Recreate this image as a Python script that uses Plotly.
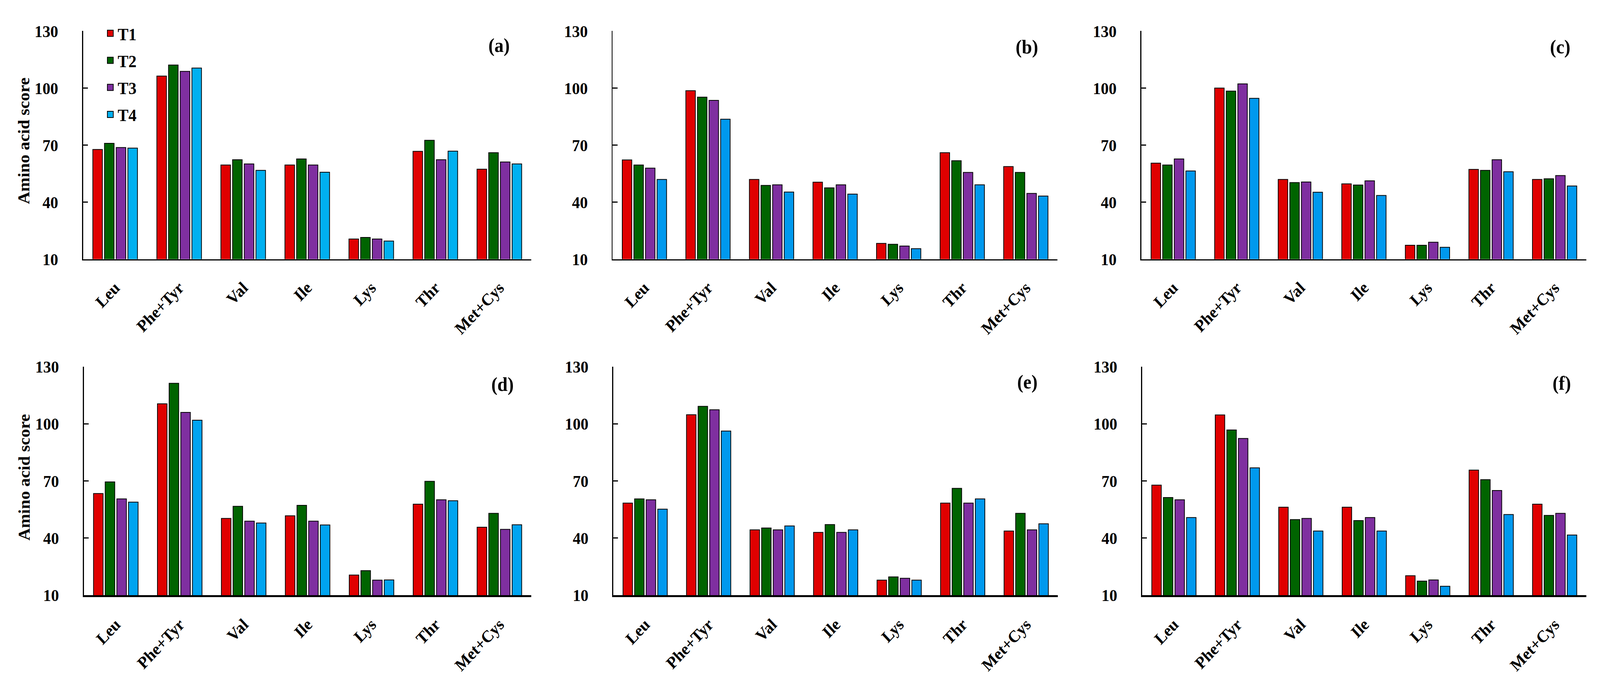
import plotly.graph_objects as go

# ---------------- data ----------------
categories = ["Leu", "Phe+Tyr", "Val", "Ile", "Lys", "Thr", "Met+Cys"]
series_names = ["T1", "T2", "T3", "T4"]
y_ticks = [10, 40, 70, 100, 130]
panel_labels = ["(a)", "(b)", "(c)", "(d)", "(e)", "(f)"]
y_title = "Amino acid score"

a_T1 = [67.7, 106.3, 59.5, 59.5, 20.6, 66.7, 57.3]
a_T2 = [70.9, 112.1, 62.3, 62.7, 21.4, 72.5, 66.0]
a_T3 = [68.7, 108.8, 60.1, 59.5, 20.6, 62.3, 61.1]
a_T4 = [68.4, 110.5, 56.7, 55.7, 19.5, 66.8, 60.1]

b_T1 = [62.2, 98.6, 51.9, 50.5, 18.3, 66.0, 58.7]
b_T2 = [59.5, 95.2, 48.8, 47.5, 17.8, 61.8, 55.6]
b_T3 = [57.9, 93.5, 49.1, 49.1, 16.9, 55.6, 44.6]
b_T4 = [51.9, 83.6, 45.3, 44.2, 15.5, 49.1, 43.2]

c_T1 = [60.5, 100.0, 51.9, 49.6, 17.3, 57.2, 51.9]
c_T2 = [59.5, 98.4, 50.3, 49.0, 17.3, 56.7, 52.3]
c_T3 = [62.7, 102.2, 50.6, 51.2, 18.9, 62.3, 54.0]
c_T4 = [56.4, 94.6, 45.2, 43.5, 16.2, 56.0, 48.5]

d_T1 = [63.4, 110.5, 50.3, 51.7, 20.6, 57.8, 45.7]
d_T2 = [69.5, 121.3, 56.7, 57.2, 22.9, 69.8, 53.0]
d_T3 = [60.6, 106.0, 48.9, 48.9, 17.9, 60.1, 44.6]
d_T4 = [58.9, 101.9, 47.9, 46.9, 18.0, 59.6, 47.0]

e_T1 = [58.4, 104.8, 44.3, 43.0, 17.9, 58.4, 43.7]
e_T2 = [60.6, 109.2, 45.3, 47.1, 19.6, 66.1, 53.0]
e_T3 = [60.1, 107.4, 44.3, 43.0, 18.9, 58.4, 44.3]
e_T4 = [55.2, 96.2, 46.4, 44.3, 17.9, 60.6, 47.5]

f_T1 = [67.8, 104.7, 56.2, 56.2, 20.2, 75.7, 57.8]
f_T2 = [61.3, 96.8, 49.7, 49.2, 17.4, 70.7, 51.9]
f_T3 = [60.1, 92.3, 50.3, 50.8, 18.0, 65.0, 53.0]
f_T4 = [50.8, 76.9, 43.7, 43.7, 14.7, 52.4, 41.6]

panels = [
    [a_T1, a_T2, a_T3, a_T4],
    [b_T1, b_T2, b_T3, b_T4],
    [c_T1, c_T2, c_T3, c_T4],
    [d_T1, d_T2, d_T3, d_T4],
    [e_T1, e_T2, e_T3, e_T4],
    [f_T1, f_T2, f_T3, f_T4],
]

# ---------------- style ----------------
W, H = 4351, 1772
FONT = "Liberation Serif, Times New Roman, serif"
colors_a = ["#E00000", "#006400", "#7F2FA0", "#00B0F0"]
colors_d = ["#E00000", "#006400", "#7F2FA0", "#00A4F0"]
colors_other = ["#E00000", "#006400", "#7F2FA0", "#0099EE"]
panel_colors = [colors_a, colors_other, colors_other, colors_d, colors_other, colors_other]

# pixel boxes of each plot area: (left, right, top, bottom)
boxes = [
    (226, 1445, 58, 658), (1666, 2876, 58, 658), (3104, 4314, 58, 658),
    (228, 1445, 941, 1542), (1668, 2877, 941, 1542), (3106, 4314, 941, 1542),
]
label_pos = [(1357, 96), (2792, 100), (4243, 100), (1366, 987), (2794, 981), (4247, 984)]
xline_w = [3, 3, 3, 4.5, 4.5, 4.5]

fig = go.Figure()
layout = dict(
    width=W, height=H,
    margin=dict(l=0, r=0, t=0, b=0),
    paper_bgcolor="white", plot_bgcolor="white",
    barmode="group", bargap=0.27, bargroupgap=0.18,
    showlegend=True,
    font=dict(family=FONT, color="black"),
)
annotations = []

for i, data in enumerate(panels):
    sfx = "" if i == 0 else str(i + 1)
    xa, ya = "x" + sfx, "y" + sfx
    for j, vals in enumerate(data):
        fig.add_trace(go.Bar(
            x=categories, y=vals, name=series_names[j],
            marker=dict(color=panel_colors[i][j], line=dict(color="black", width=2)),
            xaxis=xa, yaxis=ya, showlegend=False, hoverinfo="skip",
        ))
    l, r, t, b = boxes[i]
    layout["xaxis" + sfx] = dict(
        domain=[l / W, r / W], anchor=ya,
        type="category", showline=True, linecolor="black", linewidth=xline_w[i],
        ticks="", showgrid=False, zeroline=False, tickangle=-45,
        tickfont=dict(family=FONT, size=43, color="black", weight="bold"),
        ticklabelstandoff=28,
    )
    layout["yaxis" + sfx] = dict(
        domain=[1 - b / H, 1 - t / H], anchor=xa,
        range=[10, 130], tickvals=y_ticks, ticktext=[str(v) for v in y_ticks],
        showline=True, linecolor="black", linewidth=3,
        ticks="inside", ticklen=13, tickwidth=3, tickcolor="black",
        showgrid=False, zeroline=False,
        tickfont=dict(family=FONT, size=43, color="black", weight="bold"),
        ticklabelstandoff=56,
    )
    lx, ly = label_pos[i]
    annotations.append(dict(
        text=panel_labels[i], xref="paper", yref="paper",
        x=lx / W, y=1 - ly / H, xanchor="center", yanchor="middle",
        showarrow=False, font=dict(family=FONT, size=50, color="black", weight="bold"),
    ))

# y-axis titles for first column
for ty in [347, 1232]:
    annotations.append(dict(
        text=y_title, xref="paper", yref="paper",
        x=66 / W, y=1 - ty / H, xanchor="center", yanchor="middle",
        textangle=-90, showarrow=False,
        font=dict(family=FONT, size=44, color="black", weight="bold"),
    ))

# legend entries (panel a)
for j, name in enumerate(series_names):
    fig.add_trace(go.Scatter(
        x=[None], y=[None], mode="markers", name=name,
        marker=dict(symbol="square", size=16, color=colors_a[j], line=dict(color="black", width=2)),
        legendgroup=name, showlegend=True, xaxis="x", yaxis="y",
    ))

layout["legend"] = dict(
    x=280 / W, y=1 - 28 / H, xanchor="left", yanchor="top",
    font=dict(family=FONT, size=44, color="black", weight="bold"),
    traceorder="grouped", tracegroupgap=9, bgcolor="rgba(0,0,0,0)",
    borderwidth=0, itemwidth=30,
)
layout["annotations"] = annotations
fig.update_layout(**layout)

# map the fixed 4351x1772 figure onto whatever viewport the page gets
post = """
(function(){
  var gd = document.getElementById('{plot_id}');
  document.documentElement.style.margin='0';
  document.documentElement.style.overflow='hidden';
  document.body.style.margin='0';
  document.body.style.overflow='hidden';
  var sx = window.innerWidth/%d, sy = window.innerHeight/%d;
  gd.style.transformOrigin='0 0';
  gd.style.transform='scale('+sx+','+sy+')';
})();
""" % (W, H)

fig.write_html("out.html", post_script=post, config={"displayModeBar": False})
